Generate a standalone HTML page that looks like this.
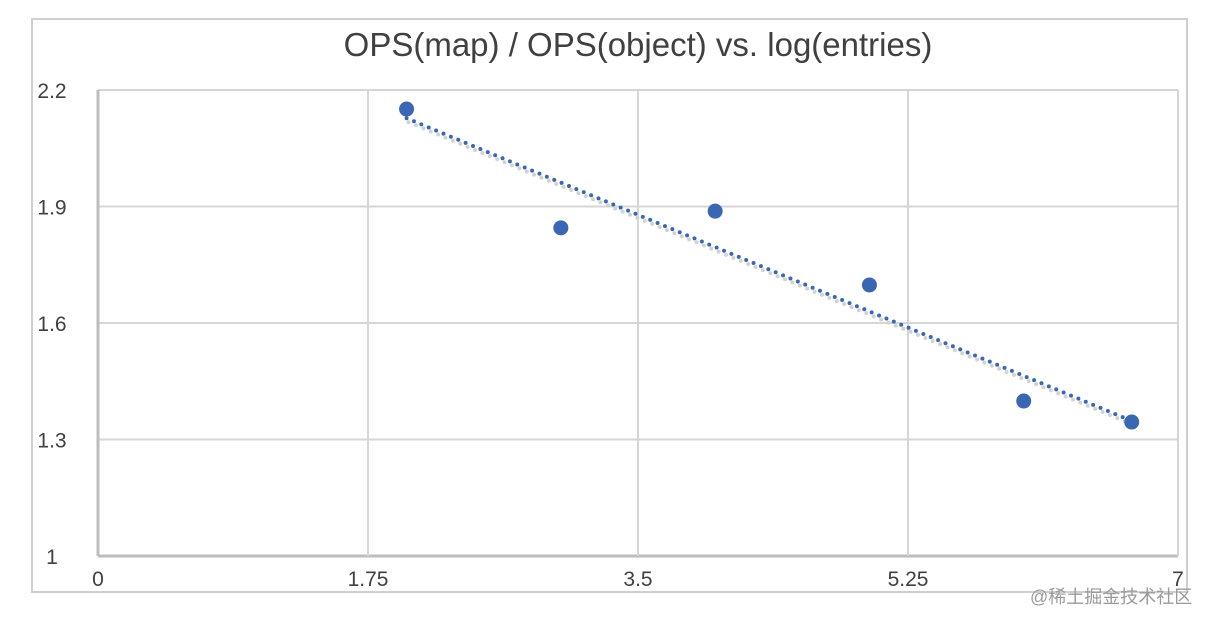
<!DOCTYPE html>
<html><head><meta charset="utf-8"><style>
body{margin:0;background:#fff;width:1208px;height:624px;overflow:hidden}
svg{display:block}
text{font-family:"Liberation Sans","Noto Sans CJK SC",sans-serif;fill:#404040}
</style></head><body>
<svg id="c" width="1208" height="624">
<rect x="32" y="19" width="1155" height="573" fill="none" stroke="#cfcfcf" stroke-width="2"/>
<text x="638" y="56" text-anchor="middle" font-size="33">OPS(map) / OPS(object) vs. log(entries)</text>
<g id="grid"></g><g id="marks"></g>
<text x="1030" y="603" font-size="18" style="fill:#9a9a9a">@稀土掘金技术社区</text>
</svg>
<script>
const xs=[2,3,4,5,6,6.7];
const ys=[2.151,1.845,1.888,1.698,1.399,1.345];
const xTicks=[0,1.75,3.5,5.25,7];
const yTicks=[1,1.3,1.6,1.9,2.2];
const xTickLabels=["0","1.75","3.5","5.25","7"];
const yTickLabels=["1","1.3","1.6","1.9","2.2"];
const L=98,R=1178,T=90,B=556;
const X=v=>L+(v-0)/(7-0)*(R-L), Y=v=>B-(v-1)/(2.2-1)*(B-T);
const NS="http://www.w3.org/2000/svg";
const g=document.getElementById('grid'),m=document.getElementById('marks');
function mk(tag,a,p){const e=document.createElementNS(NS,tag);for(const k in a)e.setAttribute(k,a[k]);p.appendChild(e);return e;}
yTicks.forEach((v,i)=>{
 const l=mk('line',{x1:L,x2:R,y1:Y(v),y2:Y(v),stroke:i==0?'#bdbdbd':'#d6d6d6','stroke-width':i==0?3:2},g);
 
 
 const t=mk('text',{x:52,y:Y(v)+8,'text-anchor':'middle','font-size':21},g);t.textContent=yTickLabels[i];
 
 
});
xTicks.forEach((v,i)=>{
 const l=mk('line',{x1:X(v),x2:X(v),y1:T,y2:B,stroke:i==0?'#bdbdbd':'#d6d6d6','stroke-width':i==0?3:2},g);
 
 
 const t=mk('text',{x:X(v),y:586,'text-anchor':'middle','font-size':21},g);t.textContent=xTickLabels[i];
 
 
});
const n=xs.length,mx=xs.reduce((a,b)=>a+b)/n,my=ys.reduce((a,b)=>a+b)/n;
let sxy=0,sxx=0;xs.forEach((x,i)=>{sxy+=(x-mx)*(ys[i]-my);sxx+=(x-mx)**2});
const sl=sxy/sxx,ic=my-sl*mx,x0=Math.min(...xs),x1=Math.max(...xs);
const sh=mk('line',{x1:X(x0)+2,y1:Y(ic+sl*x0)+4,x2:X(x1)+2,y2:Y(ic+sl*x1)+4,stroke:'#d2d2d2','stroke-width':4,'stroke-dasharray':'0 8','stroke-linecap':'round'},m);


const tl=mk('line',{x1:X(x0),y1:Y(ic+sl*x0),x2:X(x1),y2:Y(ic+sl*x1),stroke:'#3a67b3','stroke-width':4,'stroke-dasharray':'0 8','stroke-linecap':'round'},m);


xs.forEach((x,i)=>{
 const c=mk('circle',{cx:X(x),cy:Y(ys[i]),r:7.5,fill:'#3a67b3'},m);
 
 
});
</script>
</body></html>
